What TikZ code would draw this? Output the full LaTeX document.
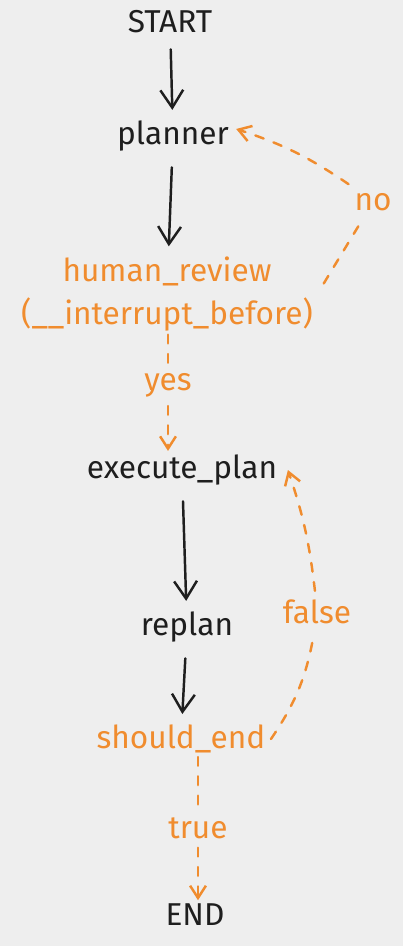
\documentclass[tikz,border=0pt]{standalone}
\usepackage{fontspec}
\setmainfont{Fira Sans}
\usetikzlibrary{arrows.meta}
\definecolor{bgray}{HTML}{EEEEEE}
\definecolor{ink}{HTML}{1E1E1E}
\definecolor{flow}{HTML}{F08C2E}

\begin{document}
\begin{tikzpicture}[x=0.02cm, y=-0.02cm,
    every node/.style = {font=\fontsize{18}{24}\selectfont, align=center, inner sep=2pt},
    stepnode/.style = {text=ink},
    condnode/.style = {text=flow},
    labelnode/.style = {text=flow, inner sep=5pt},
    flowline/.style = {ink, line width=1.4pt, line cap=round,
      shorten <=7pt, shorten >=4pt, -{Straight Barb[length=10pt,width=13pt]}},
    branch/.style = {flow, line width=1.4pt, line cap=round, dash pattern=on 5pt off 6pt},
    branchtip/.style = {branch, -{Straight Barb[length=7pt,width=9pt]}}]

  \fill[bgray] (0,0) rectangle (403,946);
  \useasboundingbox (0,0) rectangle (403,946);

  % graph nodes
  \node[stepnode] (start)   at (170,22)  {START};
  \node[stepnode] (planner) at (173,136) {planner};
  \node[condnode] (review)  at (167,294) {human\_review\\(\_\_interrupt\_before)};
  \node[stepnode] (exec)    at (182,470) {execute\_plan};
  \node[stepnode] (replan)  at (187,627) {replan};
  \node[condnode] (should)  at (181,739) {should\_end};
  \node[stepnode] (end)     at (195,915) {END};

  % edge labels
  \node[labelnode] (yes)   at (168,385) {yes};
  \node[labelnode] (no)    at (373,202) {no};
  \node[labelnode] (false) at (317,612) {false};
  \node[labelnode] (true)  at (198,828) {true};

  % plain edges
  \draw[flowline] (start) -- (planner);
  \draw[flowline] (planner) -- (review);
  \draw[flowline] (exec) -- (replan);
  \draw[flowline] (replan) -- (should);

  % conditional edges
  \draw[branch] (yes |- review.south) -- (yes);
  \draw[branchtip] (yes) -- (yes |- exec.north);
  \draw[branch] ([xshift=4pt,yshift=6pt]review.east) -- (no);
  \draw[branchtip] (no) to[bend right=8] ([xshift=2pt,yshift=4pt]planner.east);
  \draw[branch] ([xshift=1pt]should.east) to[bend right=12] (false);
  \draw[branchtip] (false) to[bend right=6] ([xshift=4pt]exec.east);
  \draw[branch] (true |- should.south) -- (true);
  \draw[branchtip] (true) -- (true |- end.north);
\end{tikzpicture}
\end{document}
